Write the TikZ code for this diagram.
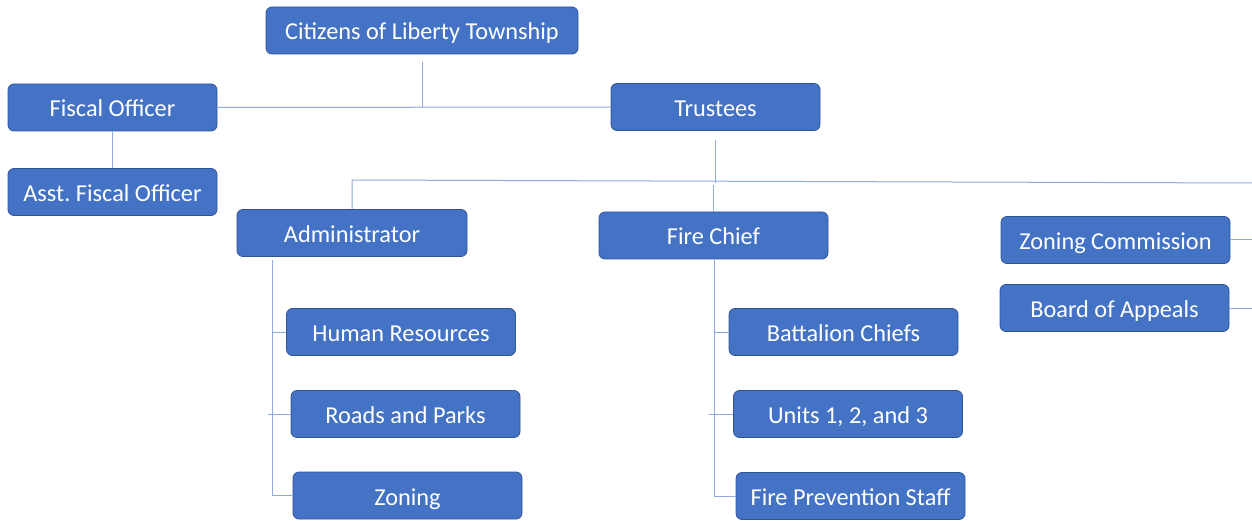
\documentclass[tikz,border=0pt]{standalone}
\usepackage{fontspec}
\setmainfont{Carlito}
\frenchspacing
\definecolor{boxfill}{HTML}{4472C4}
\definecolor{boxedge}{HTML}{2F5597}
\definecolor{linkblue}{HTML}{8FAADC}
\tikzset{
  unitbox/.style={draw=boxedge, fill=boxfill, text=white, rounded corners=6pt,
    minimum width=229pt, minimum height=47pt, inner sep=0pt, line width=0.8pt,
    text height=21pt, text depth=2pt, font=\fontsize{24.3}{29}\selectfont},
  link/.style={draw=linkblue, line width=1pt}
}
\begin{document}
\begin{tikzpicture}[x=1pt,y=-1pt]
  \useasboundingbox (0,0) rectangle (1252,521);
  % top of the chart
  \node[unitbox, minimum width=312pt] (citizens) at (422,30.5) {Citizens of Liberty Township};
  \node[unitbox, minimum width=209pt] (fiscal) at (112.5,107.5) {Fiscal Officer};
  \node[unitbox, minimum width=209pt] (trustees) at (715.5,107) {Trustees};
  \node[unitbox, minimum width=209pt] (asst) at (112.5,192) {Asst. Fiscal Officer};
  % second row
  \node[unitbox, minimum width=230pt] (admin) at (352,233) {Administrator};
  \node[unitbox] (firechief) at (713.5,235.5) {Fire Chief};
  \node[unitbox] (zoncomm) at (1115.5,240) {Zoning Commission};
  \node[unitbox] (appeals) at (1114.5,308) {Board of Appeals};
  % departments
  \foreach \name/\x/\y/\label in {hr/401/332/Human Resources, roads/405.5/414/Roads and Parks,
      zoning/407.5/495.5/Zoning, battalion/843.5/332/Battalion Chiefs,
      units/848/414/{Units 1, 2, and 3}, prevention/850.5/496/Fire Prevention Staff}{
    \node[unitbox] (\name) at (\x,\y) {\label};
  }
  % connectors
  \coordinate (busL) at (352,180);
  \coordinate (busR) at (1252,183);
  \draw[link] ([yshift=-8pt]citizens.south) -- (citizens.south |- fiscal.east);
  \draw[link] (fiscal.east) -- (trustees.west);
  \draw[link] (fiscal.south) -- (asst.north);
  \draw[link] ([yshift=-9pt]trustees.south) -- ++(0,43);
  \draw[link] (admin.north) -- (busL) -- (busR);
  \draw[link] (firechief.north) -- ++(0,-27);
  \draw[link] (zoncomm.east) -- (zoncomm.east -| busR);
  \draw[link] (appeals.east) -- (appeals.east -| busR);
  \coordinate (admtop) at (272,260);
  \draw[link] (admtop) -- (admtop |- zoning.west) -- (zoning.west);
  \draw[link] (admtop |- hr.west) -- (hr.west);
  \draw[link] ([xshift=-4pt]admtop |- roads.west) -- (roads.west);
  \coordinate (firetop) at (714,259);
  \draw[link] (firetop) -- (firetop |- prevention.west) -- (prevention.west);
  \draw[link] (firetop |- battalion.west) -- (battalion.west);
  \draw[link] ([xshift=-5pt]firetop |- units.west) -- (units.west);
\end{tikzpicture}
\end{document}
